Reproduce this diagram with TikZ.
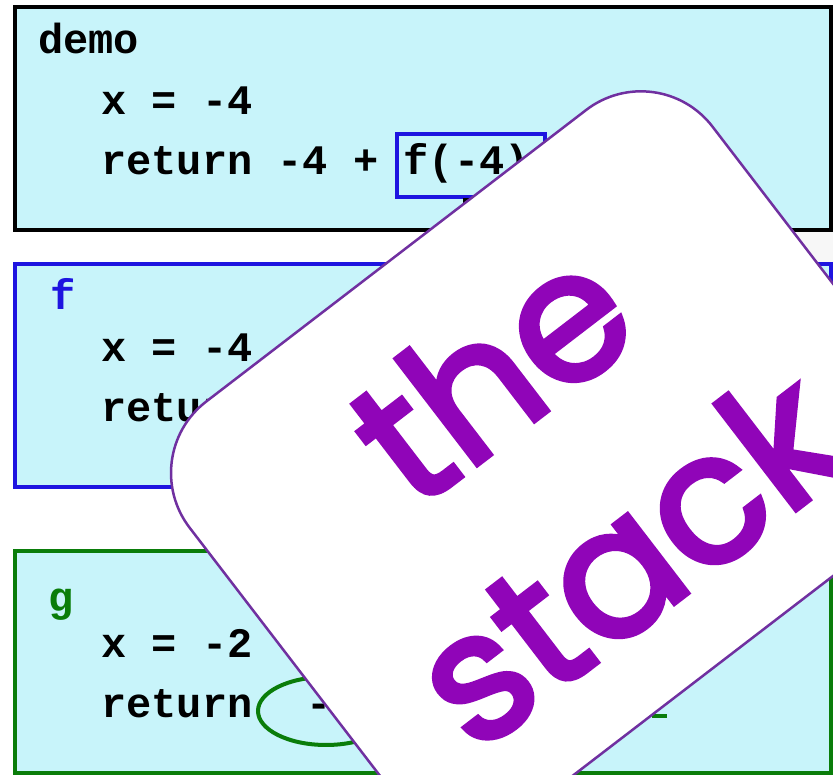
\documentclass[tikz,border=0pt]{standalone}
\usepackage{fontspec}
\setmonofont{Liberation Mono}
\newfontfamily\cardfont{Poppins}[RawFeature={embolden=3}]
\usetikzlibrary{positioning,shapes.geometric}
\definecolor{framefill}{HTML}{C8F4FA}
\definecolor{fblue}{HTML}{1E14E0}
\definecolor{ggreen}{HTML}{0A7D0A}
\definecolor{cardline}{HTML}{7030A0}
\definecolor{cardtext}{HTML}{9005B8}
\tikzset{
  frame/.style={rectangle, fill=framefill, line width=4pt, anchor=north west,
    inner sep=0pt, outer sep=0pt, minimum width=815.5pt, minimum height=223pt},
  code/.style={font=\fontsize{42}{48}\selectfont\ttfamily\bfseries, anchor=base west, inner sep=0pt},
  callbox/.style={rectangle, line width=4pt, inner sep=0pt, outer sep=0pt},
  card/.style={rectangle, rounded corners=90pt, draw=cardline, fill=white, line width=2.5pt,
    minimum width=659pt, minimum height=520pt, inner sep=0pt},
  cardtxt/.style={font=\fontsize{180}{230}\selectfont\cardfont, text=cardtext,
    anchor=base, inner sep=0pt, transform shape},
}
\begin{document}
\begin{tikzpicture}[x=1pt,y=1pt]
\useasboundingbox (0,0) rectangle (833,775);
\clip (0,0) rectangle (833,775);
% frames of the stack
\node[frame, draw=black] (demoframe) at (15,768) {};
\node[frame, draw=fblue] (fframe) at (15,511) {};
\node[frame, draw=ggreen, minimum height=222.5pt] (gframe) at (15,224) {};
\fill[black!3] (700,513) rectangle (833,543);
% demo
\node[code] (demolbl) at (38,721) {demo};
\node[code] (demox) at (101,660) {x = -4};
\node[code] (demoret) at (101,600) {return -4 + f(-4)};
\node[callbox, draw=fblue, minimum width=148pt, minimum height=62.5pt] (fcall) at (471,609.25) {};
\node[callbox, draw=black, fill=fblue!85!black, line width=3pt, anchor=north west,
  minimum width=50pt, minimum height=26pt] (fret) at (464.5,575.5) {};
% f
\node[code, text=fblue] (flbl) at (50,465) {f};
\node[code] (fx) at (101,413) {x = -4};
\node[code] (fret) at (101,353) {return};
% g
\node[code, text=ggreen] (glbl) at (48,163) {g};
\node[code] (gx) at (101,117) {x = -2};
\node[code] (gret) at (101,57) {return};
\node[code] (gneg) at (306,57) {-};
\node[ellipse, draw=ggreen, line width=4pt, minimum width=136pt, minimum height=68pt,
  inner sep=0pt] (gcall) at (326,64) {};
\draw[ggreen, line width=4pt] (652,59) -- (667,59);
% the card on top
\node[card, rotate=37.5] (stackcard) at (554.5,313) {};
\begin{scope}[shift={(554.5,313)}, rotate=37.5]
  \node[cardtxt] (thetxt) at (4,45) {the};
  \node[cardtxt] (stacktxt) at (0,-185) {stack};
\end{scope}
\end{tikzpicture}
\end{document}
